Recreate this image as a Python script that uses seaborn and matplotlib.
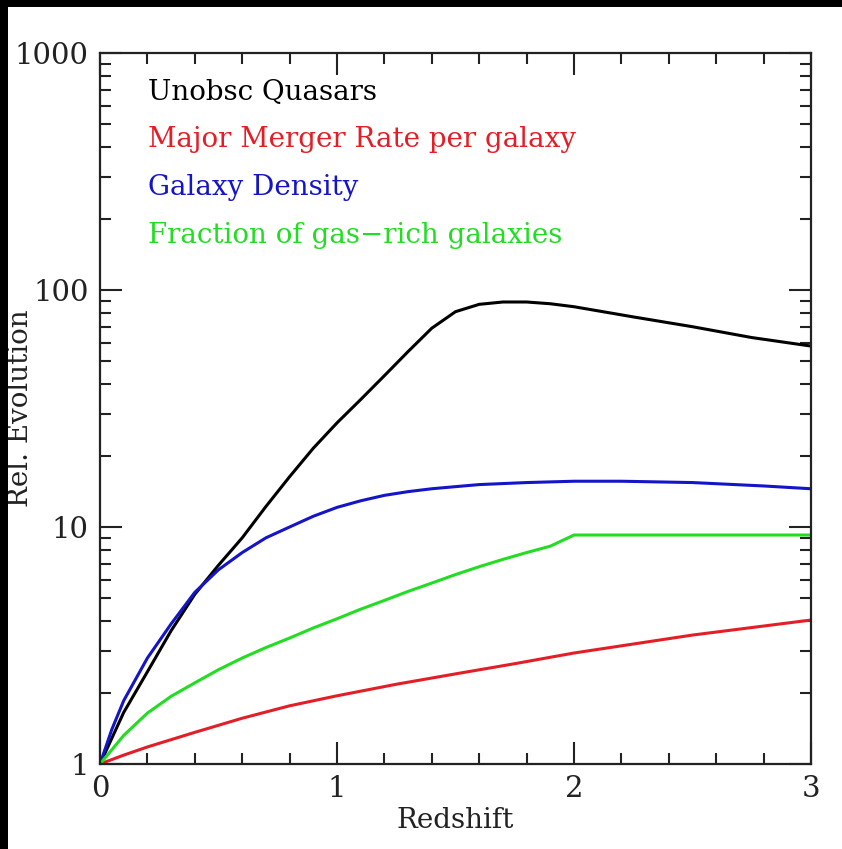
import matplotlib
matplotlib.use("Agg")
import matplotlib.pyplot as plt
import matplotlib.ticker as mticker
from matplotlib.patches import Rectangle
import seaborn as sns
import pandas as pd

# ---- data ----
z_quasar = [0, 0.1, 0.2, 0.3, 0.4, 0.5, 0.6, 0.7, 0.8, 0.9, 1.0, 1.1, 1.2, 1.3, 1.4, 1.5,
            1.6, 1.7, 1.8, 1.9, 2.0, 2.25, 2.5, 2.75, 3.0]
v_quasar = [1, 1.65, 2.45, 3.65, 5.2, 6.9, 9.0, 12.2, 16.3, 21.5, 27.5, 34.5, 43.5, 55, 69, 81,
            87, 89, 89, 87.5, 85, 77, 70, 63, 58]

z_merger = [0, 0.1, 0.2, 0.4, 0.6, 0.8, 1.0, 1.25, 1.5, 1.75, 2.0, 2.5, 3.0]
v_merger = [1, 1.09, 1.18, 1.36, 1.56, 1.76, 1.94, 2.17, 2.4, 2.65, 2.94, 3.5, 4.05]

z_density = [0, 0.05, 0.1, 0.2, 0.3, 0.4, 0.5, 0.6, 0.7, 0.8, 0.9, 1.0, 1.1, 1.2, 1.3, 1.4,
             1.5, 1.6, 1.8, 2.0, 2.2, 2.5, 2.8, 3.0]
v_density = [1, 1.4, 1.85, 2.8, 3.9, 5.3, 6.6, 7.8, 9.0, 10.0, 11.1, 12.1, 12.9, 13.6, 14.1,
             14.5, 14.8, 15.1, 15.4, 15.6, 15.6, 15.4, 14.9, 14.5]

z_gas = [0, 0.1, 0.2, 0.3, 0.4, 0.5, 0.6, 0.7, 0.8, 0.9, 1.0, 1.1, 1.2, 1.3, 1.4, 1.5, 1.6,
         1.7, 1.8, 1.9, 2.0, 2.5, 3.0]
v_gas = [1, 1.32, 1.64, 1.93, 2.2, 2.5, 2.8, 3.1, 3.4, 3.75, 4.1, 4.5, 4.9, 5.35, 5.8, 6.3, 6.8,
         7.3, 7.8, 8.3, 9.25, 9.25, 9.25]

labels = ["Unobsc Quasars", "Major Merger Rate per galaxy", "Galaxy Density",
          "Fraction of gas\u2212rich galaxies"]
colors = ["#000000", "#e41e26", "#1414c8", "#22dd22"]

x_ticks = [0, 1, 2, 3]
y_ticks = [1, 10, 100, 1000]
y_ticklabels = ["1", "10", "100", "1000"]

series = [(z_quasar, v_quasar), (z_merger, v_merger), (z_density, v_density), (z_gas, v_gas)]

sns.set_style("ticks")
plt.rcParams["font.family"] = ["DejaVu Serif"]

fig = plt.figure(figsize=(8.42, 8.49), dpi=100)
fig.patch.set_facecolor("white")
ax = fig.add_axes([100 / 842, 1 - 764 / 849, 711 / 842, 711 / 849])

for (zz, vv), lab, col in zip(series, labels, colors):
    df = pd.DataFrame({"Redshift": zz, "value": vv})
    sns.lineplot(data=df, x="Redshift", y="value", color=col, linewidth=2.2,
                 estimator=None, sort=False, ax=ax)

ax.set_yscale("log")
ax.set_xlim(0, 3)
ax.set_ylim(1, 1000)
ax.set_xticks(x_ticks)
ax.set_xticklabels([str(t) for t in x_ticks])
ax.xaxis.set_minor_locator(mticker.MultipleLocator(0.2))
ax.set_yticks(y_ticks)
ax.set_yticklabels(y_ticklabels)
ax.yaxis.set_minor_locator(mticker.LogLocator(base=10, subs=range(2, 10)))
ax.yaxis.set_minor_formatter(mticker.NullFormatter())

ax.tick_params(which="both", direction="in", top=True, right=True, width=1.5, colors="#222222",
               labelsize=21, labelcolor="#222222")
ax.tick_params(which="major", length=16, pad=8)
ax.tick_params(which="minor", length=8)
for s in ax.spines.values():
    s.set_linewidth(1.6)
    s.set_color("#222222")

ax.set_xlabel("Redshift", fontsize=20, color="#222222", labelpad=3)
ax.set_ylabel("Rel. Evolution", fontsize=20, color="#222222")
ax.yaxis.set_label_coords(-0.093, 0.5)

ypos = [0.945, 0.878, 0.8115, 0.744]
for lab, col, yp in zip(labels, colors, ypos):
    ax.text(0.0675, yp, lab, color=col, fontsize=20, transform=ax.transAxes,
            ha="left", va="center")

# black strips on the left and top edges of the image
fig.add_artist(Rectangle((0, 0), 8 / 842, 1, transform=fig.transFigure,
                         facecolor="black", edgecolor="none", zorder=10))
fig.add_artist(Rectangle((0, 1 - 7 / 849), 1, 7 / 849, transform=fig.transFigure,
                         facecolor="black", edgecolor="none", zorder=10))

fig.savefig("out.png", dpi=100, facecolor=fig.get_facecolor())
